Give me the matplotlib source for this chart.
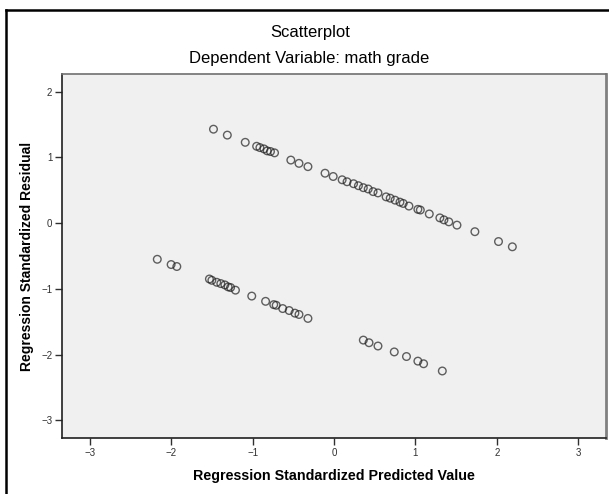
import matplotlib
matplotlib.use("Agg")
import matplotlib.pyplot as plt
from matplotlib.lines import Line2D
import numpy as np

plt.rcParams['font.family'] = ['Liberation Sans', 'DejaVu Sans']

# Regression standardized predicted value (x) and residual (y)
upper_x = [-1.48, -1.31, -1.09, -0.95, -0.91, -0.86, -0.82, -0.78, -0.73,
           -0.53, -0.43, -0.32, -0.11, -0.01, 0.10,
           0.16, 0.24, 0.30, 0.36, 0.42, 0.48, 0.54,
           0.64, 0.69, 0.75, 0.81, 0.85, 0.92, 1.03, 1.06,
           1.17, 1.30, 1.35, 1.41, 1.51, 1.73, 2.02, 2.19]
upper_y = [1.43, 1.34, 1.23, 1.17, 1.15, 1.13, 1.10, 1.09, 1.07,
           0.96, 0.91, 0.86, 0.76, 0.71, 0.66,
           0.63, 0.60, 0.57, 0.54, 0.52, 0.48, 0.46,
           0.40, 0.38, 0.35, 0.32, 0.30, 0.26, 0.21, 0.20,
           0.14, 0.08, 0.05, 0.02, -0.03, -0.13, -0.28, -0.36]

lowleft_x = [-2.17, -2.00, -1.93, -1.53, -1.50, -1.44, -1.39, -1.34, -1.30,
             -1.27, -1.21, -1.01, -0.84, -0.74, -0.71, -0.63, -0.55, -0.48,
             -0.43, -0.32]
lowleft_y = [-0.55, -0.63, -0.66, -0.85, -0.87, -0.90, -0.92, -0.94, -0.97,
             -0.98, -1.02, -1.11, -1.19, -1.24, -1.25, -1.30, -1.33, -1.37,
             -1.39, -1.45]

lowright_x = [0.36, 0.43, 0.54, 0.74, 0.89, 1.03, 1.10, 1.33]
lowright_y = [-1.78, -1.82, -1.87, -1.96, -2.03, -2.10, -2.14, -2.25]

x_ticks = [-3, -2, -1, 0, 1, 2, 3]
y_ticks = [-3, -2, -1, 0, 1, 2]

W, H = 609, 494
fig = plt.figure(figsize=(W / 100, H / 100), dpi=100)
fig.patch.set_facecolor('white')

# outer frame (clipped at right/bottom)
fig.add_artist(Line2D([6 / W, 6 / W], [0, 1 - 10 / H], color='black', lw=1.8,
                      transform=fig.transFigure))
fig.add_artist(Line2D([6 / W, 1], [1 - 10 / H, 1 - 10 / H], color='black', lw=1.8,
                      transform=fig.transFigure))

ax = fig.add_axes([62 / W, 1 - 438 / H, (606 - 62) / W, (438 - 74) / H])
ax.set_facecolor('#f0f0f0')

xs = upper_x + lowleft_x + lowright_x
ys = upper_y + lowleft_y + lowright_y
ax.scatter(xs, ys, s=30, facecolors='none', edgecolors='#202020',
           linewidths=1.0, alpha=0.7, zorder=3)

ax.set_xlim(-3.34, 3.34)
ax.set_ylim(-3.27, 2.27)
ax.set_xticks(x_ticks)
ax.set_yticks(y_ticks)
ax.tick_params(direction='out', length=5, width=1, colors='#303030',
               labelsize=7, pad=2)

for s in ['left', 'bottom']:
    ax.spines[s].set_color('#202020')
    ax.spines[s].set_linewidth(1.2)
ax.spines['top'].set_color('#707070')
ax.spines['top'].set_linewidth(1.2)
ax.spines['right'].set_color('#808080')
ax.spines['right'].set_linewidth(2.0)

ax.set_xlabel('Regression Standardized Predicted Value', fontsize=10.3,
              fontweight='bold', labelpad=8)
ax.set_ylabel('Regression Standardized Residual', fontsize=10,
              fontweight='bold', labelpad=5)

fig.text(310 / W, 1 - 33 / H, 'Scatterplot', ha='center', va='center',
         fontsize=12)
fig.text(309 / W, 1 - 59 / H, 'Dependent Variable: math grade', ha='center',
         va='center', fontsize=12)

fig.savefig('out.png', dpi=100)
